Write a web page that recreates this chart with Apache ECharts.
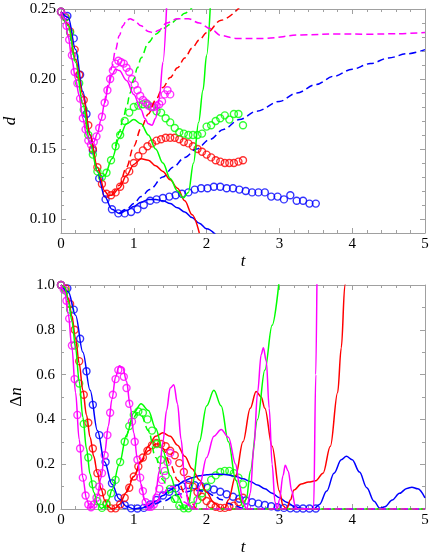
<!DOCTYPE html>
<html>
<head>
<meta charset="utf-8">
<script src="https://cdn.jsdelivr.net/npm/echarts@6/dist/echarts.min.js"></script>
<style>
html, body { margin: 0; padding: 0; background: #fff; }
#chart { width: 436px; height: 559px; }
</style>
</head>
<body>
<div id="chart"></div>
<script>
// ---------- top panel: d versus t ----------
const topYTicks = [0.10, 0.15, 0.20, 0.25]

const topBlueSolid = [[0,0.248],[0.1,0.244],[0.2,0.221],[0.3,0.191],[0.4,0.160],[0.5,0.134],[0.6,0.116],[0.7,0.107],[0.8,0.104],[0.9,0.106],[1.0,0.109],[1.1,0.112],[1.2,0.114],[1.3,0.114],[1.4,0.113],[1.5,0.111],[1.6,0.108],[1.7,0.105],[1.8,0.101],[1.9,0.097],[2.0,0.093],[2.12,0.089]]
const topBlueDashed = [[0.8,0.104],[0.9,0.107],[1.0,0.111],[1.1,0.116],[1.22,0.121],[1.4,0.130],[1.54,0.137],[1.7,0.144],[1.86,0.150],[2.05,0.157],[2.23,0.164],[2.45,0.171],[2.69,0.177],[3.0,0.184],[3.24,0.190],[3.5,0.196],[3.75,0.202],[4.0,0.207],[4.25,0.211],[4.5,0.215],[4.75,0.218],[5.0,0.221]]
const topBlueDots = [[0,0.248],[0.0875,0.245],[0.175,0.229],[0.2625,0.203],[0.35,0.175],[0.4375,0.149],[0.525,0.129],[0.6125,0.114],[0.7,0.107],[0.7875,0.104],[0.875,0.104],[0.9625,0.105],[1.05,0.107],[1.1375,0.110],[1.225,0.113],[1.3125,0.114],[1.4,0.115],[1.4875,0.116],[1.575,0.117],[1.6625,0.118],[1.75,0.119],[1.8375,0.121],[1.925,0.122],[2.0125,0.122],[2.1,0.123],[2.1875,0.123],[2.275,0.122],[2.3625,0.122],[2.45,0.121],[2.5375,0.120],[2.625,0.119],[2.7125,0.119],[2.8,0.119],[2.8875,0.116],[2.975,0.116],[3.0625,0.114],[3.15,0.117],[3.2375,0.113],[3.325,0.113],[3.4125,0.111],[3.5,0.111]]

const topRedSolid = [[0,0.248],[0.1,0.239],[0.2,0.214],[0.3,0.189],[0.4,0.160],[0.5,0.137],[0.6,0.120],[0.65,0.117],[0.7,0.117],[0.8,0.122],[0.9,0.131],[1.0,0.139],[1.1,0.143],[1.2,0.142],[1.3,0.138],[1.4,0.134],[1.5,0.128],[1.6,0.122],[1.7,0.113],[1.8,0.103],[1.9,0.090]]
const topRedDashed = [[0.7,0.117],[0.8,0.124],[0.9,0.137],[1.0,0.152],[1.1,0.165],[1.2,0.175],[1.3,0.185],[1.4,0.194],[1.5,0.201],[1.6,0.208],[1.7,0.215],[1.8,0.222],[1.9,0.228],[2.0,0.233],[2.2,0.242],[2.45,0.251]]
const topRedDots = [[0,0.248],[0.0625,0.244],[0.125,0.234],[0.1875,0.221],[0.25,0.203],[0.3125,0.185],[0.375,0.167],[0.4375,0.150],[0.5,0.137],[0.5625,0.125],[0.625,0.118],[0.6875,0.117],[0.75,0.119],[0.8125,0.123],[0.875,0.128],[0.9375,0.134],[1.0,0.140],[1.0625,0.145],[1.125,0.149],[1.1875,0.152],[1.25,0.154],[1.3125,0.156],[1.375,0.157],[1.4375,0.158],[1.5,0.158],[1.5625,0.158],[1.625,0.157],[1.6875,0.155],[1.75,0.154],[1.8125,0.152],[1.875,0.150],[1.9375,0.148],[2.0,0.146],[2.0625,0.144],[2.125,0.142],[2.1875,0.141],[2.25,0.140],[2.3125,0.140],[2.375,0.140],[2.4375,0.141],[2.5,0.142]]

const topGreenSolid = [[0,0.248],[0.1,0.238],[0.2,0.212],[0.3,0.182],[0.4,0.154],[0.5,0.134],[0.55,0.130],[0.6,0.131],[0.7,0.143],[0.8,0.158],[0.9,0.168],[1.0,0.171],[1.1,0.168],[1.2,0.160],[1.3,0.150],[1.4,0.140],[1.5,0.129],[1.6,0.120],[1.68,0.115],[1.75,0.119],[1.82,0.140],[1.89,0.169],[1.95,0.192],[2.0,0.217],[2.05,0.251]]
const topGreenDashed = [[0.75,0.152],[0.8,0.162],[0.85,0.171],[0.9,0.180],[0.95,0.190],[1.0,0.200],[1.05,0.208],[1.1,0.215],[1.2,0.226],[1.3,0.232],[1.4,0.236],[1.5,0.239],[1.6,0.243],[1.7,0.247],[1.8,0.251]]
const topGreenDots = [[0,0.248],[0.0625,0.244],[0.125,0.233],[0.1875,0.216],[0.25,0.197],[0.3125,0.178],[0.375,0.160],[0.4375,0.146],[0.5,0.134],[0.5625,0.130],[0.625,0.133],[0.6875,0.142],[0.75,0.152],[0.8125,0.160],[0.875,0.170],[0.9375,0.176],[1.0,0.180],[1.0625,0.181],[1.125,0.182],[1.1875,0.182],[1.25,0.180],[1.3125,0.177],[1.375,0.176],[1.4375,0.172],[1.5,0.169],[1.5625,0.165],[1.625,0.162],[1.6875,0.161],[1.75,0.160],[1.8125,0.160],[1.875,0.160],[1.9375,0.161],[2.0,0.166],[2.0625,0.167],[2.125,0.170],[2.1875,0.172],[2.25,0.174],[2.3125,0.171],[2.375,0.175],[2.4375,0.175],[2.5,0.167]]

const topMagentaSolid = [[0,0.248],[0.05,0.243],[0.1,0.230],[0.15,0.214],[0.2,0.200],[0.25,0.188],[0.3,0.172],[0.35,0.160],[0.4,0.154],[0.45,0.155],[0.5,0.161],[0.55,0.171],[0.6,0.183],[0.65,0.195],[0.7,0.203],[0.75,0.207],[0.8,0.206],[0.9,0.199],[1.0,0.189],[1.1,0.178],[1.15,0.172],[1.2,0.168],[1.25,0.167],[1.3,0.172],[1.35,0.186],[1.4,0.212],[1.45,0.251]]
const topMagentaDashed = [[0.6,0.183],[0.65,0.196],[0.7,0.209],[0.75,0.221],[0.8,0.231],[0.85,0.238],[0.9,0.242],[0.95,0.243],[1.0,0.242],[1.1,0.238],[1.2,0.234],[1.27,0.233],[1.35,0.235],[1.45,0.240],[1.6,0.243],[1.75,0.243],[1.9,0.240],[2.05,0.236],[2.2,0.231],[2.4,0.229],[2.8,0.229],[3.3,0.2315],[3.8,0.2322],[4.2,0.232],[4.6,0.2323],[5.0,0.2333]]
const topMagentaDots = [[0,0.248],[0.0375,0.245],[0.075,0.238],[0.1125,0.228],[0.15,0.217],[0.1875,0.205],[0.225,0.197],[0.2625,0.186],[0.3,0.172],[0.3375,0.164],[0.375,0.156],[0.4125,0.153],[0.45,0.155],[0.4875,0.159],[0.525,0.165],[0.5625,0.173],[0.6,0.183],[0.6375,0.192],[0.675,0.200],[0.7125,0.206],[0.75,0.211],[0.7875,0.213],[0.825,0.212],[0.8625,0.211],[0.9,0.208],[0.9375,0.205],[0.975,0.200],[1.0125,0.196],[1.05,0.192],[1.0875,0.188],[1.125,0.185],[1.1625,0.183],[1.2,0.181],[1.2375,0.180],[1.275,0.180],[1.3125,0.181],[1.35,0.182],[1.3875,0.184],[1.425,0.189],[1.4625,0.192],[1.5,0.189]]

// ---------- bottom panel: Δn versus t ----------
const botBlueSolid = [[0,1.0],[0.1,0.97],[0.2,0.865],[0.3,0.70],[0.4,0.53],[0.5,0.35],[0.6,0.21],[0.7,0.11],[0.8,0.045],[0.9,0.012],[1.0,0.0],[1.1,0.003],[1.2,0.015],[1.3,0.035],[1.4,0.06],[1.5,0.085],[1.6,0.107],[1.7,0.126],[1.8,0.14],[1.9,0.148],[2.0,0.153],[2.1,0.155],[2.2,0.155],[2.3,0.152],[2.4,0.145],[2.5,0.135],[2.6,0.123],[2.7,0.107],[2.8,0.09],[2.9,0.07],[3.0,0.05],[3.1,0.03],[3.2,0.012],[3.3,0.003],[3.4,0.0],[3.47,0.0],[3.55,0.02],[3.65,0.08],[3.75,0.16],[3.85,0.22],[3.92,0.235],[4.0,0.22],[4.1,0.165],[4.2,0.095],[4.3,0.035],[4.38,0.003],[4.45,0.01],[4.55,0.04],[4.65,0.07],[4.75,0.092],[4.82,0.097],[4.9,0.09],[5.0,0.05]]
const botBlueDashed = [[1.0,0.0],[1.2,0.01],[1.4,0.035],[1.6,0.065],[1.8,0.082],[1.9,0.083],[2.0,0.075],[2.1,0.06],[2.2,0.042],[2.3,0.025],[2.4,0.012],[2.5,0.004],[2.6,0.0],[2.8,0.0],[5.0,0.0]]
const botBlueDots = [[0,1.0],[0.0875,0.985],[0.175,0.89],[0.2625,0.76],[0.35,0.615],[0.4375,0.465],[0.525,0.33],[0.6125,0.21],[0.7,0.115],[0.7875,0.05],[0.875,0.018],[0.9625,0.003],[1.05,0.002],[1.1375,0.005],[1.225,0.02],[1.3125,0.04],[1.4,0.06],[1.4875,0.077],[1.575,0.092],[1.6625,0.102],[1.75,0.107],[1.8375,0.106],[1.925,0.102],[2.0125,0.095],[2.1,0.087],[2.1875,0.077],[2.275,0.066],[2.3625,0.055],[2.45,0.046],[2.5375,0.038],[2.625,0.03],[2.7125,0.024],[2.8,0.018],[2.8875,0.012],[2.975,0.008],[3.0625,0.005],[3.15,0.003],[3.2375,0.002],[3.325,0.002],[3.4125,0.002],[3.5,0.002]]

const botRedSolid = [[0,1.0],[0.05,0.99],[0.1,0.94],[0.15,0.86],[0.2,0.76],[0.25,0.65],[0.3,0.53],[0.35,0.42],[0.4,0.32],[0.45,0.235],[0.5,0.16],[0.55,0.09],[0.6,0.04],[0.65,0.01],[0.7,0.0],[0.75,0.005],[0.8,0.02],[0.9,0.075],[1.0,0.145],[1.1,0.215],[1.2,0.28],[1.3,0.325],[1.4,0.34],[1.5,0.325],[1.6,0.285],[1.7,0.235],[1.8,0.18],[1.9,0.13],[2.0,0.075],[2.1,0.028],[2.2,0.002],[2.25,0.005],[2.3,0.04],[2.4,0.15],[2.5,0.3],[2.6,0.45],[2.68,0.525],[2.75,0.5],[2.8,0.45],[2.9,0.28],[3.0,0.08],[3.05,0.015],[3.1,0.0],[3.15,0.04],[3.2,0.085],[3.3,0.112],[3.4,0.12],[3.5,0.126],[3.6,0.16],[3.7,0.28],[3.8,0.52],[3.85,0.72],[3.9,1.0],[3.95,1.3]]
const botRedDashed = [[0.9,0.075],[1.0,0.145],[1.1,0.21],[1.2,0.26],[1.3,0.29],[1.35,0.29],[1.4,0.27],[1.5,0.2],[1.6,0.13],[1.7,0.07],[1.8,0.025],[1.86,0.0],[2.0,0.0],[5.0,0.0]]
const botRedDots = [[0,1.0],[0.0625,0.985],[0.125,0.915],[0.1875,0.80],[0.25,0.66],[0.3125,0.51],[0.375,0.385],[0.4375,0.27],[0.5,0.16],[0.5625,0.075],[0.625,0.025],[0.6875,0.003],[0.75,0.003],[0.8125,0.02],[0.875,0.05],[0.9375,0.095],[1.0,0.145],[1.0625,0.19],[1.125,0.23],[1.1875,0.26],[1.25,0.285],[1.3125,0.295],[1.375,0.29],[1.4375,0.28],[1.5,0.26],[1.5625,0.24],[1.625,0.205],[1.6875,0.165],[1.75,0.13],[1.8125,0.10],[1.875,0.075],[1.9375,0.055],[2.0,0.036],[2.0625,0.02],[2.125,0.01],[2.1875,0.005],[2.25,0.005],[2.3125,0.01],[2.375,0.015],[2.4375,0.03],[2.5,0.05]]

const botGreenSolid = [[0,1.0],[0.05,0.99],[0.1,0.93],[0.15,0.84],[0.2,0.72],[0.25,0.57],[0.3,0.41],[0.35,0.27],[0.4,0.155],[0.45,0.075],[0.5,0.025],[0.55,0.003],[0.6,0.01],[0.65,0.04],[0.7,0.085],[0.8,0.2],[0.9,0.33],[1.0,0.43],[1.1,0.47],[1.2,0.44],[1.3,0.36],[1.4,0.26],[1.5,0.15],[1.6,0.06],[1.7,0.003],[1.75,0.02],[1.8,0.1],[1.9,0.3],[2.0,0.46],[2.1,0.53],[2.2,0.46],[2.3,0.3],[2.4,0.13],[2.5,0.01],[2.55,0.05],[2.6,0.17],[2.7,0.4],[2.8,0.62],[2.9,0.82],[3.0,1.03]]
const botGreenDashed = [[0.9,0.32],[1.0,0.41],[1.05,0.43],[1.1,0.42],[1.2,0.35],[1.3,0.23],[1.4,0.13],[1.5,0.06],[1.6,0.02],[1.7,0.0],[1.8,0.0],[5.0,0.0]]
const botGreenDots = [[0,1.0],[0.0625,0.975],[0.125,0.89],[0.1875,0.73],[0.25,0.56],[0.3125,0.38],[0.375,0.23],[0.4375,0.11],[0.5,0.035],[0.5625,0.005],[0.625,0.02],[0.6875,0.07],[0.75,0.13],[0.8125,0.21],[0.875,0.3],[0.9375,0.37],[1.0,0.42],[1.0625,0.435],[1.125,0.43],[1.1875,0.40],[1.25,0.35],[1.3125,0.29],[1.375,0.22],[1.4375,0.15],[1.5,0.09],[1.5625,0.045],[1.625,0.015],[1.6875,0.003],[1.75,0.003],[1.8125,0.015],[1.875,0.04],[1.9375,0.07],[2.0,0.1],[2.0625,0.13],[2.125,0.15],[2.1875,0.165],[2.25,0.17],[2.3125,0.17],[2.375,0.16],[2.4375,0.14],[2.5,0.11]]

const botMagentaSolid = [[0,1.0],[0.05,0.97],[0.1,0.87],[0.15,0.72],[0.2,0.52],[0.25,0.31],[0.3,0.14],[0.35,0.045],[0.4,0.003],[0.45,0.015],[0.5,0.06],[0.55,0.14],[0.6,0.25],[0.65,0.37],[0.7,0.49],[0.75,0.59],[0.8,0.64],[0.85,0.63],[0.9,0.57],[0.95,0.46],[1.0,0.34],[1.05,0.22],[1.1,0.11],[1.15,0.04],[1.2,0.003],[1.25,0.015],[1.3,0.07],[1.35,0.17],[1.4,0.3],[1.45,0.44],[1.5,0.54],[1.55,0.555],[1.6,0.47],[1.65,0.31],[1.7,0.13],[1.75,0.025],[1.8,0.0],[1.85,0.03],[1.9,0.1],[2.0,0.23],[2.1,0.325],[2.2,0.355],[2.3,0.32],[2.4,0.2],[2.45,0.11],[2.5,0.03],[2.55,0.0],[2.6,0.07],[2.65,0.28],[2.7,0.52],[2.75,0.69],[2.78,0.72],[2.82,0.66],[2.86,0.45],[2.9,0.2],[2.94,0.03],[2.97,0.0],[3.0,0.04],[3.05,0.15],[3.08,0.195],[3.12,0.17],[3.17,0.08],[3.22,0.01],[3.25,0.0],[3.47,0.0],[3.5,0.6],[3.52,1.2]]
const botMagentaDashed = [[1.1,0.11],[1.15,0.04],[1.2,0.008],[1.3,0.03],[1.4,0.07],[1.5,0.1],[1.55,0.1],[1.6,0.08],[1.7,0.03],[1.8,0.0],[2.0,0.0],[5.0,0.0]]
const botMagentaDots = [[0,1.0],[0.0375,0.98],[0.075,0.93],[0.1125,0.85],[0.15,0.73],[0.1875,0.58],[0.225,0.42],[0.2625,0.27],[0.3,0.14],[0.3375,0.06],[0.375,0.02],[0.4125,0.008],[0.45,0.02],[0.4875,0.05],[0.525,0.1],[0.5625,0.16],[0.6,0.24],[0.6375,0.33],[0.675,0.43],[0.7125,0.51],[0.75,0.58],[0.7875,0.62],[0.825,0.62],[0.8625,0.59],[0.9,0.54],[0.9375,0.47],[0.975,0.39],[1.0125,0.3],[1.05,0.22],[1.0875,0.14],[1.125,0.08],[1.1625,0.03],[1.2,0.01],[1.2375,0.01],[1.275,0.02],[1.3125,0.05],[1.35,0.09],[1.3875,0.13],[1.425,0.17],[1.4625,0.21],[1.5,0.25]]

// ---------- styling ----------
const BLUE = '#0000ff', RED = '#ff0000', GREEN = '#00ff00', MAGENTA = '#ff00ff'
const FRAME = '#a0a0a0'
const FONT = 'Liberation Serif'

const chart = echarts.init(document.getElementById('chart'))

const labelStyle = { color: '#000', fontFamily: FONT, fontSize: 15 }
const nameStyle = { color: '#000', fontFamily: FONT, fontSize: 17, fontStyle: 'italic' }

function xAxis(gridIndex, position, withLabels, nameGap) {
  return {
    type: 'value', gridIndex, position, min: 0, max: 5, interval: 1,
    axisLine: { show: true, onZero: false, lineStyle: { color: FRAME } },
    axisTick: { show: true, inside: true, length: 5, lineStyle: { color: FRAME } },
    minorTick: { show: true, splitNumber: 5, length: 3, lineStyle: { color: FRAME } },
    axisLabel: Object.assign({ show: withLabels, margin: 4 }, labelStyle),
    splitLine: { show: false },
    name: withLabels ? 't' : '', nameLocation: 'middle', nameGap: nameGap || 0,
    nameTextStyle: nameStyle
  }
}

function topY(position, major, withLabels) {
  return {
    type: 'value', gridIndex: 0, position, min: 0.09, max: 0.25,
    interval: major ? undefined : 0.01,
    axisLine: { show: major, onZero: false, lineStyle: { color: FRAME } },
    axisTick: major
      ? { show: true, inside: true, length: 5, customValues: topYTicks, lineStyle: { color: FRAME } }
      : { show: true, inside: true, length: 3, lineStyle: { color: FRAME } },
    axisLabel: Object.assign({ show: withLabels, margin: 5, formatter: v => v.toFixed(2) },
      withLabels ? { customValues: topYTicks } : {}, labelStyle),
    splitLine: { show: false },
    name: withLabels ? 'd' : '', nameLocation: 'middle', nameGap: 42,
    nameTextStyle: nameStyle
  }
}

function botY(position, withLabels) {
  return {
    type: 'value', gridIndex: 1, position, min: 0, max: 1, interval: 0.2,
    axisLine: { show: true, onZero: false, lineStyle: { color: FRAME } },
    axisTick: { show: true, inside: true, length: 5, lineStyle: { color: FRAME } },
    minorTick: { show: true, splitNumber: 2, length: 3, lineStyle: { color: FRAME } },
    axisLabel: Object.assign({ show: withLabels, margin: 6, formatter: v => v.toFixed(1) }, labelStyle),
    splitLine: { show: false },
    name: withLabels ? '{u|Δ}{i|n}' : '', nameLocation: 'middle', nameGap: 36,
    nameTextStyle: Object.assign({}, nameStyle, {
      rich: {
        u: { fontFamily: FONT, fontSize: 17, color: '#000', fontStyle: 'normal' },
        i: { fontFamily: FONT, fontSize: 17, color: '#000', fontStyle: 'italic' }
      }
    })
  }
}

function curve(data, color, xi, yi, dashed) {
  return {
    type: 'line', data, xAxisIndex: xi, yAxisIndex: yi,
    showSymbol: false, smooth: 0.35, smoothMonotone: 'x', silent: true,
    lineStyle: { color, width: 1.5, type: dashed ? [7, 4] : 'solid' }
  }
}

function dots(data, color, xi, yi) {
  return {
    type: 'scatter', data, xAxisIndex: xi, yAxisIndex: yi,
    symbol: 'circle', symbolSize: 7, silent: true,
    itemStyle: { color: 'rgba(0,0,0,0)', borderColor: color, borderWidth: 1.4 }
  }
}

const option = {
  animation: false,
  grid: [
    { left: 61, right: 11, top: 9, height: 224, containLabel: false, outerBoundsMode: 'none' },
    { left: 61, right: 11, top: 285, height: 224, containLabel: false, outerBoundsMode: 'none' }
  ],
  xAxis: [
    xAxis(0, 'bottom', true, 20),
    xAxis(0, 'top', false),
    xAxis(1, 'bottom', true, 30),
    xAxis(1, 'top', false)
  ],
  yAxis: [
    topY('left', true, true),
    topY('left', false, false),
    topY('right', true, false),
    topY('right', false, false),
    botY('left', true),
    botY('right', false)
  ],
  series: [
    // top
    curve(topBlueSolid, BLUE, 0, 0),
    curve(topBlueDashed, BLUE, 0, 0, true),
    curve(topRedSolid, RED, 0, 0),
    curve(topRedDashed, RED, 0, 0, true),
    curve(topGreenSolid, GREEN, 0, 0),
    curve(topGreenDashed, GREEN, 0, 0, true),
    curve(topMagentaSolid, MAGENTA, 0, 0),
    curve(topMagentaDashed, MAGENTA, 0, 0, true),
    dots(topBlueDots, BLUE, 0, 0),
    dots(topRedDots, RED, 0, 0),
    dots(topGreenDots, GREEN, 0, 0),
    dots(topMagentaDots, MAGENTA, 0, 0),
    // bottom
    curve(botBlueSolid, BLUE, 2, 4),
    curve(botBlueDashed, BLUE, 2, 4, true),
    curve(botRedSolid, RED, 2, 4),
    curve(botRedDashed, RED, 2, 4, true),
    curve(botGreenSolid, GREEN, 2, 4),
    curve(botGreenDashed, GREEN, 2, 4, true),
    curve(botMagentaSolid, MAGENTA, 2, 4),
    curve(botMagentaDashed, MAGENTA, 2, 4, true),
    dots(botBlueDots, BLUE, 2, 4),
    dots(botRedDots, RED, 2, 4),
    dots(botGreenDots, GREEN, 2, 4),
    dots(botMagentaDots, MAGENTA, 2, 4)
  ]
}

chart.setOption(option)
</script>
</body>
</html>
